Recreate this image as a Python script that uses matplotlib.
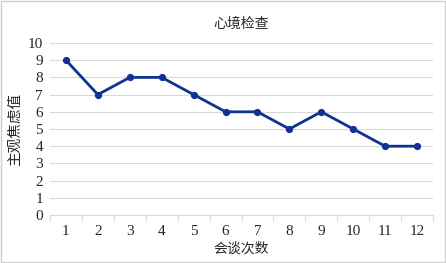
import matplotlib.pyplot as plt
from matplotlib.patches import Rectangle

# data
sessions = [1, 2, 3, 4, 5, 6, 7, 8, 9, 10, 11, 12]
anxiety = [9, 7, 8, 8, 7, 6, 6, 5, 6, 5, 4, 4]
yticks = [0, 1, 2, 3, 4, 5, 6, 7, 8, 9, 10]

plt.rcParams['font.family'] = ['Liberation Serif', 'Noto Sans CJK SC']

fig = plt.figure(figsize=(4.46, 2.63), dpi=100)
ax = fig.add_axes([0.1121, 0.1825, 0.8588, 0.654])

ax.plot(sessions, anxiety, color='#0F3391', lw=2, marker='o', ms=4.2, zorder=3)

ax.set_xlim(0.5, 12.5)
ax.set_ylim(0, 10)
ax.set_yticks(yticks)
ax.set_xticks(sessions)
ax.set_xticks([s + 0.5 for s in [0] + sessions], minor=True)
ax.yaxis.grid(True, color='#d9d9d9', lw=0.8)
ax.set_axisbelow(True)

for s in ['top', 'right', 'left']:
    ax.spines[s].set_visible(False)
ax.spines['bottom'].set_color('#d9d9d9')
ax.spines['bottom'].set_linewidth(0.8)

ax.tick_params(axis='y', length=0, labelsize=11, pad=5, colors='#262626')
ax.tick_params(axis='x', which='major', length=0, labelsize=11, pad=7, colors='#262626')
ax.tick_params(axis='x', which='minor', length=4, color='#d9d9d9', width=0.8)

ax.set_title('心境检查', fontsize=10, color='#262626', pad=11)
ax.set_xlabel('会谈次数', fontsize=10, color='#262626', labelpad=3)
ax.set_ylabel('主观焦虑值', fontsize=10.5, color='#262626', labelpad=4)

fig.patches.append(Rectangle((0.002, 0.003), 0.995, 0.993, transform=fig.transFigure,
                             fill=False, edgecolor='#d0d0d0', lw=1))

plt.savefig('out.png')
